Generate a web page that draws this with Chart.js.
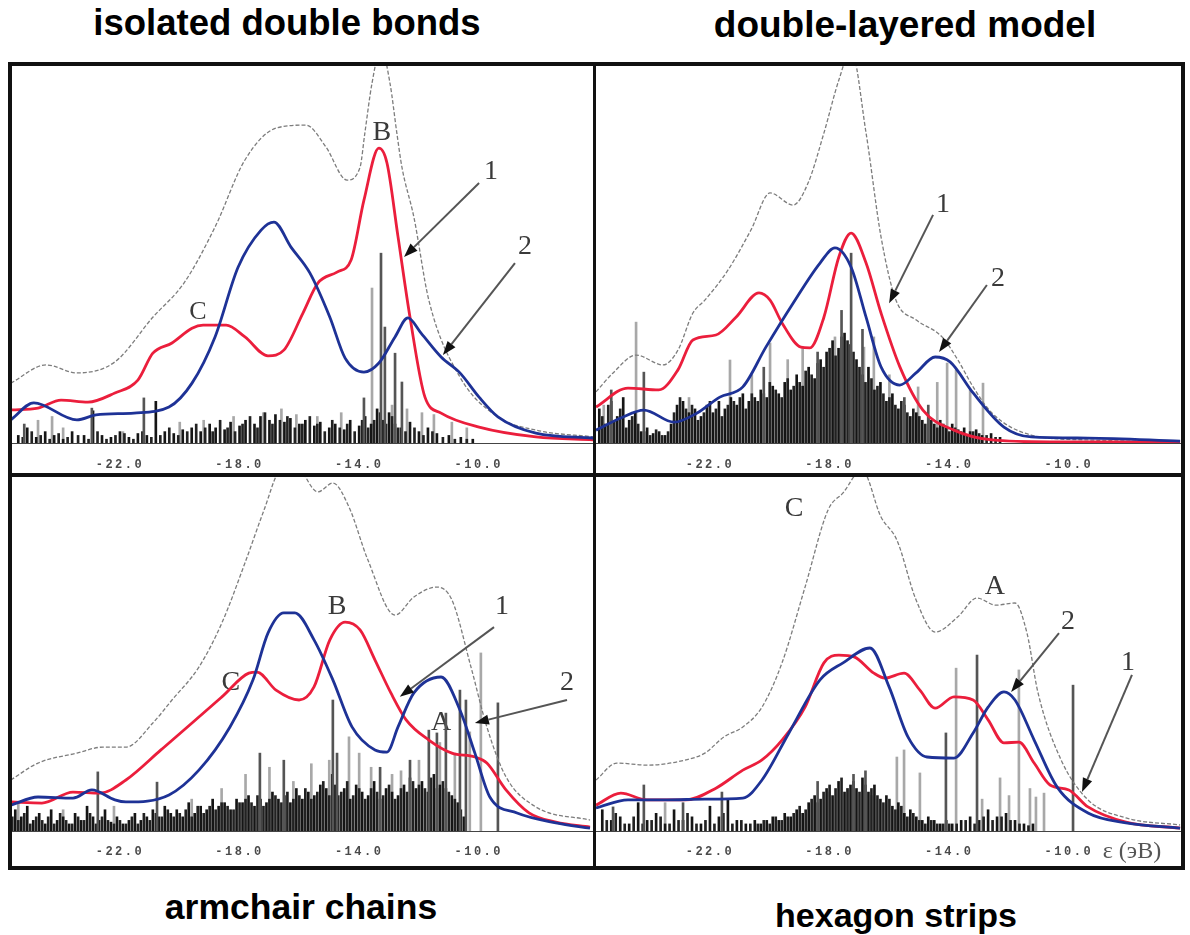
<!DOCTYPE html>
<html><head><meta charset="utf-8">
<script src="https://cdn.jsdelivr.net/npm/chart.js@4.4.1/dist/chart.umd.min.js"></script>
<style>
html,body{margin:0;padding:0;background:#fff;width:1190px;height:935px;overflow:hidden;position:relative;}
.title{position:absolute;transform:translate(-50%,-50%);font-family:Arial,"Liberation Sans",sans-serif;font-weight:bold;white-space:nowrap;color:#000;}
.panel{position:absolute;}
.frame{position:absolute;background:#111;z-index:5;}
</style></head><body>
<div id="titles"></div>
<div class="panel" style="left:12px;top:66px;width:581px;height:407px;"><canvas id="c1"></canvas></div>
<div class="panel" style="left:596px;top:66px;width:585px;height:407px;"><canvas id="c2"></canvas></div>
<div class="panel" style="left:12px;top:477px;width:581px;height:389px;"><canvas id="c3"></canvas></div>
<div class="panel" style="left:596px;top:477px;width:585px;height:389px;"><canvas id="c4"></canvas></div>
<div class="frame" style="left:8px;top:62px;width:1177px;height:4px;"></div>
<div class="frame" style="left:8px;top:866px;width:1177px;height:4px;"></div>
<div class="frame" style="left:8px;top:62px;width:4px;height:808px;"></div>
<div class="frame" style="left:1181px;top:62px;width:4px;height:808px;"></div>
<div class="frame" style="left:593px;top:62px;width:3px;height:808px;"></div>
<div class="frame" style="left:8px;top:473px;width:1177px;height:4px;"></div>
<script>
// ---------- data ----------
const panelTitles = ['isolated double bonds','double-layered model','armchair chains','hexagon strips'];
const tickValues = [-22,-18,-14,-10];
const unitLabel = 'ε (эВ)';

// panel 1: isolated double bonds
const p1Gray = [[-25.65,15.8],[-24.47,20.6],[-23.44,18.5],[-22.17,21.4],[-20.9,33.2],[-19.86,42.2],[-18.82,57.0],[-17.82,74.7],[-16.78,83.1],[-15.78,83.9],[-15.11,78.1],[-14.41,69.4],[-13.97,72.8],[-13.81,81.8],[-13.57,95.0],[-13.27,104.2],[-12.97,95.0],[-12.74,81.8],[-12.57,72.8],[-12.17,59.6],[-11.67,37.7],[-10.63,17.4],[-9.36,6.9],[-8.09,3.4],[-6.15,1.6]];
const p1Red = [[-25.65,8.7],[-24.74,9.2],[-23.97,11.3],[-23.07,10.8],[-22.17,13.2],[-21.4,16.6],[-20.9,23.7],[-20.26,26.4],[-19.59,30.3],[-19.22,31.1],[-18.45,31.1],[-17.82,28.0],[-17.05,23.0],[-16.52,24.5],[-15.88,34.3],[-15.38,42.2],[-14.74,45.1],[-14.27,48.3],[-13.84,64.1],[-13.34,77.8],[-13.07,73.9],[-12.70,54.4],[-12.30,33.2],[-11.80,12.1],[-11.26,7.9],[-9.99,4.2],[-8.09,1.6],[-6.15,0.8]];
const p1Blue = [[-25.65,6.1],[-24.88,10.6],[-23.44,6.1],[-22.8,7.4],[-21.53,7.9],[-20.36,9.5],[-19.59,15.8],[-18.82,28.0],[-18.05,46.4],[-17.28,56.2],[-16.85,58.3],[-16.28,51.7],[-15.65,44.9],[-14.98,33.2],[-14.47,22.4],[-13.84,18.7],[-13.34,21.1],[-12.8,28.0],[-12.37,33.0],[-11.93,29.0],[-11.26,22.7],[-10.63,18.5],[-9.99,12.1],[-9.36,6.9],[-8.09,2.6],[-6.15,1.3]];
const p1Black = [[-25.4,2],[-25.1,4],[-24.8,1.5],[-24.5,3],[-24.2,2],[-23.9,1],[-23.6,3],[-23.2,2],[-22.9,8.5],[-22.6,2],[-22.3,1.5],[-22.0,3],[-21.7,1.5],[-21.4,2.5],[-21.1,2],[-20.8,11],[-20.5,3],[-20.2,2.5],[-19.9,3.5],[-19.6,4],[-19.3,3],[-19.0,5],[-18.8,4],[-18.5,3.5],[-18.3,5.5],[-18.0,4.5],[-17.8,6],[-17.5,5],[-17.3,7],[-17.0,6],[-16.8,7.5],[-16.5,5.5],[-16.3,6.5],[-16.0,5],[-15.8,6],[-15.5,4.5],[-15.3,5.5],[-15.0,4],[-14.8,5],[-14.5,3.5],[-14.3,6],[-14.0,4.5],[-13.8,7],[-13.6,5],[-13.4,9],[-13.2,6],[-13.0,8],[-12.8,5],[-12.6,4],[-12.3,5.5],[-12.0,3],[-11.7,4],[-11.4,2.5],[-11.0,2],[-10.6,1.5],[-10.2,1]];
const p1BlackB = [[-25.25,1.5],[-24.95,3],[-24.65,2],[-24.35,1],[-24.05,2.5],[-23.75,1.5],[-23.4,2],[-23.05,1],[-22.75,3],[-22.45,1],[-22.15,2],[-21.85,2.5],[-21.55,1],[-21.25,3],[-20.95,1.5],[-20.65,2],[-20.35,4],[-20.05,2],[-19.75,3],[-19.45,5],[-19.15,4],[-18.9,3],[-18.65,6],[-18.4,4],[-18.15,3],[-17.9,5],[-17.65,7],[-17.4,4],[-17.15,8],[-16.9,5],[-16.65,6],[-16.4,7],[-16.15,4],[-15.9,5],[-15.65,7],[-15.4,5],[-15.15,3],[-14.9,6],[-14.65,4],[-14.4,5],[-14.15,3],[-13.9,6],[-13.7,4],[-13.5,6],[-13.3,8],[-13.1,5],[-12.9,7],[-12.7,4],[-12.45,3],[-12.15,4],[-11.85,2],[-11.55,3],[-11.2,1.5],[-10.8,1],[-10.4,1]];
const p1Dark = [[-25.2,5],[-22.94,9.2],[-21.2,11.9],[-13.84,11.9],[-13.27,50.1],[-13.14,30.6],[-12.8,23.7],[-12.57,16.1]];
const p1Light = [[-24.74,6],[-24.27,7],[-23.9,4],[-21.9,3],[-20.0,5.5],[-19.2,6],[-18.2,7],[-17.2,8],[-16.6,9],[-16.1,7.5],[-15.4,7],[-14.6,8],[-13.57,40.9],[-12.9,10],[-12.4,9],[-11.9,8],[-11.5,7.5],[-10.9,5.5],[-10.4,4]];

// panel 2: double-layered model
const p2Gray = [[-25.81,13.5],[-25.24,18.5],[-24.47,23.2],[-23.57,20.6],[-23.07,24.5],[-22.57,34.3],[-22.17,37.7],[-21.4,45.6],[-20.63,56.2],[-19.99,66.0],[-19.22,62.8],[-18.72,68.6],[-18.19,81.8],[-17.69,95.8],[-17.28,103.7],[-16.78,81.8],[-16.28,54.4],[-15.78,37.7],[-15.11,32.5],[-14.24,28.0],[-13.71,21.9],[-13.2,14.8],[-12.57,7.9],[-11.26,2.1],[-9.36,0.8],[-6.28,0.3]];
const p2Red = [[-25.81,9.5],[-24.74,14.5],[-23.71,14.0],[-23.07,19.3],[-22.57,27.2],[-21.8,28.5],[-21.13,33.2],[-20.36,39.6],[-19.99,37.7],[-19.59,31.7],[-18.96,25.3],[-18.66,25.1],[-18.19,33.2],[-17.69,49.1],[-17.28,55.4],[-16.78,47.5],[-16.28,34.3],[-15.65,20.1],[-14.88,8.7],[-13.84,3.4],[-12.57,0.8],[-10.63,0.3],[-6.28,0.3]];
const p2Blue = [[-25.81,3.4],[-24.98,6.6],[-24.21,8.7],[-23.2,5.5],[-22.43,7.9],[-21.67,12.1],[-20.9,14.8],[-20.13,25.3],[-19.22,36.9],[-18.32,47.5],[-17.82,51.5],[-17.28,46.4],[-16.78,33.2],[-16.28,20.1],[-15.65,15.3],[-15.11,18.5],[-14.47,22.7],[-13.97,21.4],[-13.2,13.2],[-12.17,4.2],[-11.26,1.6],[-9.36,1.3],[-6.28,0.5]];
const p2Black = [[-25.7,9],[-25.5,5],[-25.3,11],[-25.1,7],[-24.9,12],[-24.7,6],[-24.5,8],[-24.3,3],[-24.1,4],[-23.9,2.5],[-23.7,3],[-23.5,2],[-23.3,5],[-23.1,10],[-22.9,11],[-22.7,8],[-22.5,9],[-22.3,7],[-22.1,10],[-21.9,8],[-21.7,11],[-21.5,9],[-21.3,12],[-21.1,10],[-20.9,13],[-20.7,11],[-20.5,12],[-20.3,14],[-20.1,12],[-19.9,15],[-19.7,13],[-19.5,16],[-19.3,14],[-19.1,18],[-18.9,15],[-18.7,20],[-18.5,17],[-18.3,22],[-18.1,24],[-17.9,27],[-17.7,25],[-17.5,29],[-17.3,26],[-17.1,22],[-16.9,18],[-16.7,20],[-16.5,14],[-16.3,16],[-16.1,11],[-15.9,13],[-15.7,9],[-15.5,10],[-15.3,7],[-15.1,8],[-14.9,6],[-14.7,7],[-14.5,5],[-14.3,6],[-14.1,4],[-13.9,5],[-13.7,3.5],[-13.5,4],[-13.3,3],[-13.1,3.5],[-12.9,2],[-12.6,2.5],[-12.3,1.5]];
const p2BlackB = [[-25.6,7],[-25.4,10],[-25.2,6],[-25.0,9],[-24.8,4],[-24.6,7],[-24.4,5],[-24.2,3],[-24.0,2],[-23.8,3.5],[-23.6,2],[-23.4,3],[-23.2,8],[-23.0,12],[-22.8,9],[-22.6,10],[-22.4,6],[-22.2,8],[-22.0,11],[-21.8,9],[-21.6,7],[-21.4,10],[-21.2,11],[-21.0,12],[-20.8,9],[-20.6,13],[-20.4,11],[-20.2,13],[-20.0,16],[-19.8,14],[-19.6,12],[-19.4,17],[-19.2,15],[-19.0,16],[-18.8,19],[-18.6,18],[-18.4,21],[-18.2,20],[-18.0,25],[-17.8,23],[-17.6,28],[-17.4,27],[-17.2,24],[-17.0,20],[-16.8,16],[-16.6,17],[-16.4,15],[-16.2,13],[-16.0,12],[-15.8,10],[-15.6,11],[-15.4,8],[-15.2,9],[-15.0,7],[-14.8,5],[-14.6,6],[-14.4,4],[-14.2,5],[-14.0,3],[-13.8,4],[-13.6,3],[-13.4,2],[-13.2,3],[-13.0,2.5],[-12.75,2],[-12.45,1.5]];
const p2Dark = [[-25.3,14],[-24.21,18.7],[-20.2,20],[-18.4,24],[-17.6,35],[-17.28,50.1],[-16.9,30],[-15.5,12],[-14.7,10]];
const p2Light = [[-25.55,10],[-24.47,31.9],[-23.2,6],[-22.7,12],[-21.33,21.9],[-20.6,18],[-19.99,26.4],[-19.4,22],[-18.9,25],[-17.82,28.0],[-16.85,25.3],[-16.52,28.0],[-16.0,18],[-15.04,14.8],[-14.4,16],[-14.07,21.1],[-13.77,19.3],[-13.3,14.0],[-12.87,15.8]];

// panel 3: armchair chains
const p3Gray = [[-25.65,14.4],[-24.74,19.2],[-23.44,22.0],[-22.57,23.7],[-21.8,23.7],[-20.9,30.5],[-20.26,37.0],[-19.36,46.3],[-18.59,58.8],[-17.82,75.7],[-17.18,90.7],[-16.65,102],[-16.15,103.4],[-15.38,95.8],[-14.88,98.3],[-14.34,91.5],[-13.71,76.6],[-12.8,61.0],[-12.17,66.1],[-11.4,68.9],[-10.9,65.3],[-10.26,46.3],[-9.73,29.4],[-9.09,15.3],[-8.09,6.8],[-6.28,3.1]];
const p3Red = [[-25.65,8.2],[-24.61,7.9],[-23.57,11.0],[-22.67,10.7],[-21.8,14.4],[-20.63,22.9],[-19.59,30.5],[-18.59,37.9],[-17.69,44.6],[-17.42,44.9],[-16.78,39.8],[-16.01,37.0],[-15.51,40.7],[-14.98,54.0],[-14.47,59.0],[-13.97,56.8],[-13.47,48.3],[-12.94,39.0],[-12.43,31.4],[-11.67,25.7],[-10.9,22.0],[-10.13,20.9],[-9.73,19.2],[-9.09,11.6],[-8.32,5.1],[-7.42,2.5],[-6.28,1.1]];
const p3Blue = [[-25.65,7.3],[-24.74,9.6],[-23.57,9.3],[-22.94,11.6],[-22.17,8.8],[-21.8,8.2],[-20.36,10.2],[-19.36,17.2],[-18.32,29.4],[-17.55,42.7],[-17.05,55.9],[-16.52,61.6],[-16.15,61.6],[-15.51,54.0],[-14.88,42.7],[-14.24,29.4],[-13.47,22.9],[-13.07,22.3],[-12.7,29.4],[-12.17,39.0],[-11.26,43.5],[-10.63,34.2],[-10.13,22.0],[-9.63,9.6],[-8.72,5.1],[-7.42,2.3],[-6.28,0.8]];
const p3Black = [[-25.5,6],[-25.3,4],[-25.1,7],[-24.9,3],[-24.7,5],[-24.5,2],[-24.3,6],[-24.1,3],[-23.9,4],[-23.7,2],[-23.5,5],[-23.3,3],[-23.1,7],[-22.9,4],[-22.7,3],[-22.5,6],[-22.3,2.5],[-22.1,4],[-21.9,2],[-21.7,3],[-21.5,5],[-21.3,3],[-21.1,4],[-20.9,6],[-20.7,4],[-20.5,7],[-20.3,5],[-20.1,6],[-19.9,4],[-19.7,8],[-19.5,5],[-19.3,7],[-19.1,6],[-18.9,9],[-18.7,7],[-18.5,8],[-18.3,6],[-18.1,9],[-17.9,8],[-17.7,10],[-17.5,7],[-17.3,9],[-17.1,8],[-16.9,11],[-16.7,9],[-16.5,10],[-16.3,8],[-16.1,12],[-15.9,9],[-15.7,11],[-15.5,10],[-15.3,13],[-15.1,12],[-14.9,16],[-14.7,10],[-14.5,12],[-14.3,9],[-14.1,13],[-13.9,11],[-13.7,10],[-13.5,14],[-13.3,9],[-13.1,12],[-12.9,11],[-12.7,10],[-12.5,13],[-12.3,15],[-12.1,12],[-11.9,14],[-11.7,11],[-11.5,16],[-11.3,13],[-11.1,12],[-10.9,10],[-10.7,8],[-10.5,4]];
const p3BlackB = [[-25.6,4],[-25.4,3],[-25.2,5],[-25.0,2],[-24.8,4],[-24.6,3],[-24.4,4],[-24.2,2],[-24.0,5],[-23.8,3],[-23.6,2],[-23.4,4],[-23.2,3],[-23.0,5],[-22.8,2],[-22.6,4],[-22.4,3],[-22.2,2],[-22.0,3],[-21.8,2],[-21.6,4],[-21.4,2],[-21.2,5],[-21.0,3],[-20.8,5],[-20.6,4],[-20.4,6],[-20.2,4],[-20.0,5],[-19.8,6],[-19.6,4],[-19.4,7],[-19.2,5],[-19.0,7],[-18.8,6],[-18.6,8],[-18.4,7],[-18.2,6],[-18.0,8],[-17.8,9],[-17.6,8],[-17.4,10],[-17.2,7],[-17.0,9],[-16.8,10],[-16.6,8],[-16.4,11],[-16.2,9],[-16.0,10],[-15.8,12],[-15.6,9],[-15.4,11],[-15.2,14],[-15.0,10],[-14.8,13],[-14.6,11],[-14.4,14],[-14.2,10],[-14.0,12],[-13.8,9],[-13.6,12],[-13.4,11],[-13.2,10],[-13.0,13],[-12.8,9],[-12.6,12],[-12.4,11],[-12.2,14],[-12.0,13],[-11.8,12],[-11.6,15],[-11.4,12],[-11.2,14],[-11.0,11],[-10.8,9],[-10.6,6]];
const p3Dark = [[-22.74,16.7],[-20.76,13.8],[-17.32,22],[-16.52,20],[-14.88,37],[-14.74,22],[-13.3,18],[-12.3,20],[-11.67,28.5],[-11.4,27.7],[-11.1,33.3],[-10.63,39.8],[-10.43,37],[-9.36,36.2]];
const p3Light = [[-25.4,8],[-23.9,6],[-22.2,7],[-19.6,9],[-18.6,12],[-17.8,16],[-17.0,18],[-16.2,14],[-15.6,19],[-15.0,20],[-14.34,26.6],[-14.0,22],[-13.6,18],[-12.9,16],[-12.6,17],[-12.0,20],[-11.3,25],[-10.8,22],[-10.3,28],[-9.93,50.3]];

// panel 4: hexagon strips
const p4Gray = [[-25.81,14.4],[-25.11,19.2],[-24.11,18.6],[-22.8,20.1],[-22.17,22.0],[-21.53,26.6],[-20.9,29.4],[-20.26,35.0],[-19.59,47.5],[-18.82,68.9],[-18.05,90.7],[-17.55,95.5],[-16.92,102],[-16.28,88.7],[-15.75,82.2],[-15.11,65.3],[-14.47,56.2],[-13.71,60.5],[-13.07,65.8],[-12.44,63.8],[-11.8,64.4],[-11.4,55.9],[-11.03,39.0],[-10.26,20.1],[-9.36,8.8],[-8.09,3.7],[-6.28,1.7]];
const p4Red = [[-25.81,7.3],[-24.98,10.7],[-24.11,8.8],[-22.8,8.8],[-21.8,12.1],[-20.9,17.2],[-20.26,20.1],[-19.59,25.7],[-18.82,35.0],[-18.19,47.5],[-17.69,49.7],[-17.18,49.2],[-16.52,44.6],[-16.15,43.2],[-15.51,44.6],[-14.98,39.8],[-14.47,34.7],[-13.84,37.9],[-13.2,37.0],[-12.7,31.4],[-12.17,24.9],[-11.67,25.1],[-11.16,19.2],[-10.63,13.0],[-10.0,11.6],[-9.36,6.8],[-8.09,2.5],[-6.28,0.8]];
const p4Blue = [[-25.81,6.5],[-24.74,8.8],[-23.44,8.8],[-22.17,9.0],[-20.9,9.3],[-20.26,14.4],[-19.36,27.7],[-18.32,42.7],[-17.55,47.5],[-16.65,51.7],[-16.01,40.7],[-15.38,26.6],[-14.74,20.9],[-13.84,20.6],[-13.2,27.7],[-12.7,35.0],[-12.17,39.3],[-11.8,37.0],[-11.16,25.7],[-10.39,12.4],[-9.36,5.1],[-8.09,2.3],[-6.28,0.8]];
const p4Black = [[-25.6,6],[-25.3,3],[-25.0,4],[-24.7,2],[-24.4,8],[-24.1,3],[-23.8,5],[-23.5,2],[-23.2,6],[-22.9,3],[-22.6,4],[-22.3,2],[-22.0,7],[-21.7,4],[-21.4,9],[-21.1,3],[-20.8,2],[-20.5,3],[-20.3,2],[-20.1,3],[-19.9,4],[-19.7,3],[-19.5,5],[-19.3,4],[-19.1,6],[-18.9,5],[-18.7,8],[-18.5,10],[-18.3,9],[-18.1,12],[-17.9,10],[-17.7,14],[-17.5,11],[-17.3,13],[-17.1,12],[-16.9,15],[-16.7,11],[-16.5,13],[-16.3,9],[-16.1,10],[-15.9,7],[-15.7,8],[-15.5,5],[-15.3,6],[-15.1,4],[-14.9,3],[-14.7,4],[-14.5,3],[-14.3,2],[-14.1,3],[-13.9,2],[-13.6,3],[-13.3,4],[-13.0,3],[-12.7,6],[-12.4,4],[-12.1,5],[-11.8,3],[-11.5,2],[-11.2,2]];
const p4BlackB = [[-25.45,3],[-25.15,5],[-24.85,2],[-24.55,4],[-24.25,2],[-23.95,3],[-23.65,4],[-23.35,2],[-23.05,3],[-22.75,5],[-22.45,2],[-22.15,3],[-21.85,2],[-21.55,5],[-21.25,2],[-20.95,3],[-20.65,2],[-20.4,2],[-20.2,3],[-20.0,2],[-19.8,4],[-19.6,3],[-19.4,4],[-19.2,5],[-19.0,7],[-18.8,6],[-18.6,9],[-18.4,8],[-18.2,11],[-18.0,13],[-17.8,12],[-17.6,15],[-17.4,12],[-17.2,14],[-17.0,11],[-16.8,13],[-16.6,12],[-16.4,10],[-16.2,8],[-16.0,9],[-15.8,6],[-15.6,7],[-15.4,4],[-15.2,5],[-15.0,3],[-14.8,2],[-14.6,3],[-14.4,2],[-14.2,2],[-14.0,2],[-13.75,2],[-13.45,3],[-13.15,2],[-12.85,4],[-12.55,3],[-12.25,4],[-11.95,3],[-11.65,2],[-11.35,1.5]];
const p4Dark = [[-25.24,6.8],[-24.21,13],[-22.9,8],[-21.6,11],[-18.4,14],[-17.2,16],[-16.8,17],[-14.11,27.7],[-13.07,49.7],[-9.86,41.2]];
const p4Light = [[-23.5,8],[-18.0,11],[-17.4,12],[-16.6,10],[-15.75,20.9],[-15.51,22.9],[-14.98,16.4],[-13.77,46],[-12.9,9],[-12.3,15],[-12.0,10],[-11.67,45.5],[-11.3,12],[-11.1,9.6],[-10.83,10.7]];

// ---------- rendering ----------
const titleBox = document.getElementById('titles');
const titlePos = [[287,23,36.5],[905,25,37],[301,907,35.5],[896,915,34]];
panelTitles.forEach((t,i)=>{
  const d=document.createElement('div'); d.className='title'; d.textContent=t;
  d.style.left=titlePos[i][0]+'px'; d.style.top=titlePos[i][1]+'px'; d.style.fontSize=titlePos[i][2]+'px';
  titleBox.appendChild(d);
});

const toXY = arr => arr.map(([x,y])=>({x,y}));

const annotPlugin = {
  id:'annot',
  beforeDraw(chart){ chart.ctx.letterSpacing='2.5px'; },
  beforeDatasetsDraw(chart, args, opts){
    const ctx=chart.ctx, xs=chart.scales.x, ys=chart.scales.y;
    ctx.letterSpacing='0px';
    ctx.save();
    ctx.fillStyle='#3a3a3a'; ctx.textAlign='center'; ctx.textBaseline='middle';
    (opts.labels||[]).forEach(l=>{
      ctx.font=(l[3]||28)+'px "Liberation Serif", "DejaVu Serif", serif';
      ctx.fillText(l[0], xs.getPixelForValue(l[1]), ys.getPixelForValue(l[2]));
    });
    ctx.restore();
  },
  afterDraw(chart, args, opts){
    const ctx=chart.ctx, xs=chart.scales.x, ys=chart.scales.y;
    ctx.save();
    ctx.letterSpacing='0px';
    (opts.arrows||[]).forEach(a=>{
      const x1=xs.getPixelForValue(a[0]), y1=ys.getPixelForValue(a[1]);
      const x2=xs.getPixelForValue(a[2]), y2=ys.getPixelForValue(a[3]);
      const ang=Math.atan2(y2-y1,x2-x1), L=14, W=5;
      const bx=x2-L*Math.cos(ang), by=y2-L*Math.sin(ang);
      ctx.strokeStyle='#555'; ctx.lineWidth=2;
      ctx.beginPath(); ctx.moveTo(x1,y1); ctx.lineTo(bx,by); ctx.stroke();
      ctx.fillStyle='#111';
      ctx.beginPath(); ctx.moveTo(x2,y2);
      ctx.lineTo(bx+W*Math.sin(ang), by-W*Math.cos(ang));
      ctx.lineTo(bx-W*Math.sin(ang), by+W*Math.cos(ang));
      ctx.closePath(); ctx.fill();
    });
    if (opts.unit){
      ctx.font='24px "Liberation Serif", serif'; ctx.fillStyle='#555';
      ctx.textAlign='center'; ctx.textBaseline='middle';
      ctx.fillText(opts.unit[0], xs.getPixelForValue(opts.unit[1]), chart.chartArea.bottom+opts.unit[2]);
    }
    ctx.restore();
  }
};

function lineDs(data,color,width,dash,order){
  return {type:'line', data:toXY(data), borderColor:color, borderWidth:width, borderDash:dash||[],
    pointRadius:0, fill:false, cubicInterpolationMode:'monotone', order:order, borderJoinStyle:'round'};
}
function stickDs(data,color,thick,order){
  return {type:'bar', data:toXY(data), backgroundColor:color, borderWidth:0, barThickness:thick,
    grouped:false, order:order};
}

function makePanel(id,p){
  new Chart(document.getElementById(id),{
    type:'line',
    data:{datasets:[
      stickDs(p.light,'#a8a8a8',2,10),
      stickDs(p.black,'#151515',2,9),
      stickDs(p.blackB,'#222222',2,8),
      stickDs(p.dark,'#555555',2,7),
      lineDs(p.gray,'#7d7d7d',1.3,[4,2],4),
      lineDs(p.red,'#eb1e3c',2.8,null,3),
      lineDs(p.blue,'#1e3296',2.8,null,2)
    ]},
    options:{
      responsive:true, maintainAspectRatio:false, animation:false,
      layout:{padding:0},
      plugins:{legend:{display:false}, tooltip:{enabled:false},
        annot:{labels:p.labels, arrows:p.arrows, unit:p.unit}},
      scales:{
        x:{type:'linear', min:p.xmin, max:p.xmax, offset:false,
          grid:{display:false, drawTicks:false},
          border:{display:true, color:'#444', width:1, dash:p.dotted?[2,3]:[]},
          afterBuildTicks:s=>{ s.ticks = tickValues.map(v=>({value:v})); },
          afterFit:s=>{ s.height=p.axisH; },
          ticks:{autoSkip:false, maxRotation:0, padding:p.pad, color:'#4a4a4a',
            font:{family:'"Liberation Mono", "DejaVu Sans Mono", monospace', size:12, weight:'bold'},
            callback:v=>v.toFixed(1)}
        },
        y:{display:false, min:0, max:p.ymax}
      }
    },
    plugins:[annotPlugin]
  });
}

makePanel('c1',{xmin:-25.61,xmax:-6.18,ymax:99.5,axisH:30,pad:15,
  gray:p1Gray,red:p1Red,blue:p1Blue,black:p1Black,blackB:p1BlackB,dark:p1Dark,light:p1Light,
  labels:[['B',-13.24,81.8],['C',-19.39,34.6,26],['1',-9.59,71.5],['2',-8.45,51.7]],
  arrows:[[-9.99,68.6,-12.5,49.1],[-8.79,47.5,-11.2,23.2]]});
makePanel('c2',{xmin:-25.81,xmax:-6.25,ymax:99.5,axisH:30,pad:15,
  gray:p2Gray,red:p2Red,blue:p2Blue,black:p2Black,blackB:p2BlackB,dark:p2Dark,light:p2Light,
  labels:[['1',-14.21,62.8],['2',-12.37,43.3]],
  arrows:[[-14.54,60.2,-16.01,36.9],[-12.74,41.7,-14.34,24.0]]});
makePanel('c3',{xmin:-25.61,xmax:-6.18,ymax:100,axisH:35,pad:14,
  gray:p3Gray,red:p3Red,blue:p3Blue,black:p3Black,blackB:p3BlackB,dark:p3Dark,light:p3Light,
  labels:[['B',-14.74,63.3],['C',-18.29,41.8],['A',-11.26,30.5],['1',-9.22,63.3],['2',-7.05,41.8]],
  arrows:[[-9.49,57.6,-12.64,37.9],[-7.05,37.0,-10.13,30.5]]});
makePanel('c4',{xmin:-25.81,xmax:-6.25,ymax:100,axisH:35,pad:14,dotted:true,
  gray:p4Gray,red:p4Red,blue:p4Blue,black:p4Black,blackB:p4BlackB,dark:p4Dark,light:p4Light,
  labels:[['C',-19.19,91.2],['A',-12.47,68.9],['2',-10.03,59.0],['1',-8.02,47.7]],
  arrows:[[-10.33,55.9,-11.93,39.3],[-7.89,44.1,-9.56,11.0]],
  unit:[unitLabel,-7.89,21]});
</script>
</body></html>
